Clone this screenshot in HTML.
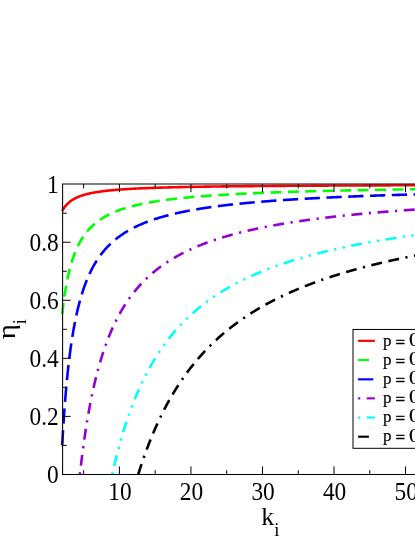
<!DOCTYPE html>
<html><head><meta charset="utf-8"><style>
html,body{margin:0;padding:0;background:#fff;}
body{width:415px;height:537px;overflow:hidden;position:relative;}
svg{position:absolute;left:0;top:0;display:block;will-change:transform;}
text{font-family:"Liberation Serif",serif;fill:#000;}
</style></head><body>
<svg width="415" height="537" viewBox="0 0 415 537">
<defs><clipPath id="c"><rect x="55" y="184.2" width="400" height="290.22"/></clipPath></defs>

<g clip-path="url(#c)" fill="none" stroke-width="2.6">
<polyline points="62.17,211.19 62.86,209.94 63.55,208.81 64.25,207.77 64.94,206.81 65.63,205.93 66.32,205.11 67.02,204.36 67.71,203.66 68.40,203.00 69.10,202.39 69.79,201.81 70.48,201.27 71.17,200.76 71.87,200.29 72.56,199.84 73.25,199.41 73.94,199.01 74.64,198.62 75.33,198.26 76.02,197.91 76.71,197.58 77.41,197.27 78.10,196.97 78.79,196.68 79.49,196.41 80.18,196.15 80.87,195.90 81.56,195.66 82.26,195.43 82.95,195.21 83.64,194.99 84.33,194.79 85.03,194.59 85.72,194.40 86.41,194.22 87.11,194.04 87.80,193.87 88.49,193.70 89.18,193.55 89.88,193.39 90.57,193.24 91.26,193.10 91.95,192.96 92.65,192.82 93.34,192.69 94.03,192.56 94.73,192.44 95.42,192.32 96.11,192.20 96.80,192.09 97.50,191.98 98.19,191.87 98.88,191.77 99.57,191.67 100.27,191.57 100.96,191.47 101.65,191.38 102.35,191.29 103.04,191.20 103.73,191.11 104.42,191.03 105.12,190.94 105.81,190.86 106.50,190.79 107.19,190.71 107.89,190.63 108.58,190.56 109.27,190.49 109.96,190.42 110.66,190.35 111.35,190.28 112.04,190.22 112.74,190.15 113.43,190.09 114.12,190.03 114.81,189.97 115.51,189.91 116.20,189.85 116.89,189.79 117.58,189.74 118.28,189.68 118.97,189.63 119.66,189.58 120.36,189.53 121.05,189.48 121.74,189.43 122.43,189.38 123.13,189.33 123.82,189.28 124.51,189.24 125.20,189.19 125.90,189.15 126.59,189.11 127.28,189.06 127.98,189.02 128.67,188.98 129.36,188.94 130.05,188.90 130.75,188.86 131.44,188.82 132.13,188.78 132.82,188.75 133.52,188.71 134.21,188.67 134.90,188.64 135.60,188.60 136.29,188.57 136.98,188.53 137.67,188.50 138.37,188.47 139.06,188.43 139.75,188.40 140.44,188.37 141.14,188.34 141.83,188.31 142.52,188.28 143.21,188.25 143.91,188.22 144.60,188.19 145.29,188.16 145.99,188.14 146.68,188.11 147.37,188.08 148.06,188.05 148.76,188.03 149.45,188.00 150.14,187.98 150.83,187.95 151.53,187.93 152.22,187.90 152.91,187.88 153.61,187.85 154.30,187.83 154.99,187.80 155.68,187.78 156.38,187.76 157.07,187.74 157.76,187.71 158.45,187.69 159.15,187.67 159.84,187.65 160.53,187.63 161.23,187.61 161.92,187.59 162.61,187.57 163.30,187.55 164.00,187.53 164.69,187.51 165.38,187.49 166.07,187.47 166.77,187.45 167.46,187.43 168.15,187.41 168.85,187.39 169.54,187.37 170.23,187.36 170.92,187.34 171.62,187.32 172.31,187.30 173.00,187.29 173.69,187.27 174.39,187.25 175.08,187.24 175.77,187.22 176.46,187.20 177.16,187.19 177.85,187.17 178.54,187.16 179.24,187.14 179.93,187.12 180.62,187.11 181.31,187.09 182.01,187.08 182.70,187.06 183.39,187.05 184.08,187.03 184.78,187.02 185.47,187.01 186.16,186.99 186.86,186.98 187.55,186.96 188.24,186.95 188.93,186.94 189.63,186.92 190.32,186.91 191.01,186.90 191.70,186.88 192.40,186.87 193.09,186.86 193.78,186.85 194.48,186.83 195.17,186.82 195.86,186.81 196.55,186.80 197.25,186.79 197.94,186.77 198.63,186.76 199.32,186.75 200.02,186.74 200.71,186.73 201.40,186.72 202.09,186.70 202.79,186.69 203.48,186.68 204.17,186.67 204.87,186.66 205.56,186.65 206.25,186.64 206.94,186.63 207.64,186.62 208.33,186.61 209.02,186.60 209.71,186.59 210.41,186.58 211.10,186.57 211.79,186.56 212.49,186.55 213.18,186.54 213.87,186.53 214.56,186.52 215.26,186.51 215.95,186.50 216.64,186.49 217.33,186.48 218.03,186.47 218.72,186.46 219.41,186.45 220.11,186.44 220.80,186.43 221.49,186.42 222.18,186.42 222.88,186.41 223.57,186.40 224.26,186.39 224.95,186.38 225.65,186.37 226.34,186.36 227.03,186.36 227.73,186.35 228.42,186.34 229.11,186.33 229.80,186.32 230.50,186.31 231.19,186.31 231.88,186.30 232.57,186.29 233.27,186.28 233.96,186.28 234.65,186.27 235.34,186.26 236.04,186.25 236.73,186.24 237.42,186.24 238.12,186.23 238.81,186.22 239.50,186.22 240.19,186.21 240.89,186.20 241.58,186.19 242.27,186.19 242.96,186.18 243.66,186.17 244.35,186.17 245.04,186.16 245.74,186.15 246.43,186.14 247.12,186.14 247.81,186.13 248.51,186.12 249.20,186.12 249.89,186.11 250.58,186.10 251.28,186.10 251.97,186.09 252.66,186.09 253.36,186.08 254.05,186.07 254.74,186.07 255.43,186.06 256.13,186.05 256.82,186.05 257.51,186.04 258.20,186.04 258.90,186.03 259.59,186.02 260.28,186.02 260.98,186.01 261.67,186.01 262.36,186.00 263.05,185.99 263.75,185.99 264.44,185.98 265.13,185.98 265.82,185.97 266.52,185.97 267.21,185.96 267.90,185.96 268.59,185.95 269.29,185.94 269.98,185.94 270.67,185.93 271.37,185.93 272.06,185.92 272.75,185.92 273.44,185.91 274.14,185.91 274.83,185.90 275.52,185.90 276.21,185.89 276.91,185.89 277.60,185.88 278.29,185.88 278.99,185.87 279.68,185.87 280.37,185.86 281.06,185.86 281.76,185.85 282.45,185.85 283.14,185.84 283.83,185.84 284.53,185.83 285.22,185.83 285.91,185.82 286.61,185.82 287.30,185.81 287.99,185.81 288.68,185.80 289.38,185.80 290.07,185.79 290.76,185.79 291.45,185.79 292.15,185.78 292.84,185.78 293.53,185.77 294.23,185.77 294.92,185.76 295.61,185.76 296.30,185.75 297.00,185.75 297.69,185.75 298.38,185.74 299.07,185.74 299.77,185.73 300.46,185.73 301.15,185.72 301.84,185.72 302.54,185.72 303.23,185.71 303.92,185.71 304.62,185.70 305.31,185.70 306.00,185.70 306.69,185.69 307.39,185.69 308.08,185.68 308.77,185.68 309.46,185.68 310.16,185.67 310.85,185.67 311.54,185.66 312.24,185.66 312.93,185.66 313.62,185.65 314.31,185.65 315.01,185.65 315.70,185.64 316.39,185.64 317.08,185.63 317.78,185.63 318.47,185.63 319.16,185.62 319.86,185.62 320.55,185.62 321.24,185.61 321.93,185.61 322.63,185.61 323.32,185.60 324.01,185.60 324.70,185.59 325.40,185.59 326.09,185.59 326.78,185.58 327.48,185.58 328.17,185.58 328.86,185.57 329.55,185.57 330.25,185.57 330.94,185.56 331.63,185.56 332.32,185.56 333.02,185.55 333.71,185.55 334.40,185.55 335.09,185.54 335.79,185.54 336.48,185.54 337.17,185.53 337.87,185.53 338.56,185.53 339.25,185.53 339.94,185.52 340.64,185.52 341.33,185.52 342.02,185.51 342.71,185.51 343.41,185.51 344.10,185.50 344.79,185.50 345.49,185.50 346.18,185.49 346.87,185.49 347.56,185.49 348.26,185.49 348.95,185.48 349.64,185.48 350.33,185.48 351.03,185.47 351.72,185.47 352.41,185.47 353.11,185.47 353.80,185.46 354.49,185.46 355.18,185.46 355.88,185.45 356.57,185.45 357.26,185.45 357.95,185.45 358.65,185.44 359.34,185.44 360.03,185.44 360.73,185.43 361.42,185.43 362.11,185.43 362.80,185.43 363.50,185.42 364.19,185.42 364.88,185.42 365.57,185.42 366.27,185.41 366.96,185.41 367.65,185.41 368.34,185.40 369.04,185.40 369.73,185.40 370.42,185.40 371.12,185.39 371.81,185.39 372.50,185.39 373.19,185.39 373.89,185.38 374.58,185.38 375.27,185.38 375.96,185.38 376.66,185.37 377.35,185.37 378.04,185.37 378.74,185.37 379.43,185.36 380.12,185.36 380.81,185.36 381.51,185.36 382.20,185.36 382.89,185.35 383.58,185.35 384.28,185.35 384.97,185.35 385.66,185.34 386.36,185.34 387.05,185.34 387.74,185.34 388.43,185.33 389.13,185.33 389.82,185.33 390.51,185.33 391.20,185.32 391.90,185.32 392.59,185.32 393.28,185.32 393.98,185.32 394.67,185.31 395.36,185.31 396.05,185.31 396.75,185.31 397.44,185.30 398.13,185.30 398.82,185.30 399.52,185.30 400.21,185.30 400.90,185.29 401.59,185.29 402.29,185.29 402.98,185.29 403.67,185.29 404.37,185.28 405.06,185.28 405.75,185.28 406.44,185.28 407.14,185.27 407.83,185.27 408.52,185.27 409.21,185.27 409.91,185.27 410.60,185.26 411.29,185.26 411.99,185.26 412.68,185.26 413.37,185.26 414.06,185.25 414.76,185.25 415.45,185.25 416.14,185.25 416.83,185.25 417.53,185.24 418.22,185.24 418.91,185.24 419.61,185.24 420.30,185.24 420.99,185.23 421.68,185.23 422.38,185.23 423.07,185.23 423.76,185.23 424.45,185.23 425.15,185.22 425.84,185.22 426.53,185.22 427.23,185.22 427.92,185.22 428.61,185.21 429.30,185.21 430.00,185.21 430.69,185.21 431.38,185.21 432.07,185.21 432.77,185.20 433.46,185.20 434.15,185.20 434.84,185.20 435.54,185.20 436.23,185.19 436.92,185.19 437.62,185.19 438.31,185.19 439.00,185.19 439.69,185.19 440.39,185.18 441.08,185.18 441.77,185.18 442.46,185.18 443.16,185.18 443.85,185.18 444.54,185.17 445.24,185.17 445.93,185.17 446.62,185.17 447.31,185.17 448.01,185.17 448.70,185.16 449.39,185.16 450.08,185.16 450.78,185.16 451.47,185.16 452.16,185.16 452.86,185.15 453.55,185.15 454.24,185.15 454.93,185.15 455.63,185.15 456.32,185.15 457.01,185.14 457.70,185.14 458.40,185.14 459.09,185.14 459.78,185.14 460.48,185.14 461.17,185.13 461.86,185.13 462.55,185.13 463.25,185.13 463.94,185.13 464.63,185.13 465.32,185.13 466.02,185.12 466.71,185.12 467.40,185.12 468.09,185.12 468.79,185.12 469.48,185.12 470.17,185.11 470.87,185.11 471.56,185.11 472.25,185.11 472.94,185.11 473.64,185.11 474.33,185.11 475.02,185.10 475.71,185.10 476.41,185.10 477.10,185.10" stroke="#ff0000"/>
<polyline points="62.17,313.93 62.86,307.94 63.55,302.48 64.25,297.48 64.94,292.88 65.63,288.65 66.32,284.73 67.02,281.09 67.71,277.71 68.40,274.56 69.10,271.61 69.79,268.85 70.48,266.26 71.17,263.82 71.87,261.52 72.56,259.35 73.25,257.30 73.94,255.36 74.64,253.52 75.33,251.77 76.02,250.11 76.71,248.53 77.41,247.02 78.10,245.58 78.79,244.21 79.49,242.89 80.18,241.63 80.87,240.43 81.56,239.27 82.26,238.16 82.95,237.10 83.64,236.07 84.33,235.09 85.03,234.14 85.72,233.23 86.41,232.35 87.11,231.50 87.80,230.68 88.49,229.88 89.18,229.12 89.88,228.38 90.57,227.66 91.26,226.97 91.95,226.29 92.65,225.64 93.34,225.01 94.03,224.40 94.73,223.81 95.42,223.23 96.11,222.67 96.80,222.12 97.50,221.60 98.19,221.08 98.88,220.58 99.57,220.09 100.27,219.62 100.96,219.16 101.65,218.71 102.35,218.27 103.04,217.84 103.73,217.42 104.42,217.02 105.12,216.62 105.81,216.23 106.50,215.85 107.19,215.48 107.89,215.12 108.58,214.77 109.27,214.42 109.96,214.09 110.66,213.76 111.35,213.44 112.04,213.12 112.74,212.81 113.43,212.51 114.12,212.21 114.81,211.92 115.51,211.64 116.20,211.36 116.89,211.09 117.58,210.82 118.28,210.56 118.97,210.30 119.66,210.05 120.36,209.80 121.05,209.56 121.74,209.32 122.43,209.09 123.13,208.86 123.82,208.64 124.51,208.42 125.20,208.20 125.90,207.99 126.59,207.78 127.28,207.57 127.98,207.37 128.67,207.17 129.36,206.97 130.05,206.78 130.75,206.59 131.44,206.41 132.13,206.23 132.82,206.05 133.52,205.87 134.21,205.70 134.90,205.52 135.60,205.36 136.29,205.19 136.98,205.03 137.67,204.87 138.37,204.71 139.06,204.55 139.75,204.40 140.44,204.25 141.14,204.10 141.83,203.95 142.52,203.81 143.21,203.67 143.91,203.53 144.60,203.39 145.29,203.25 145.99,203.12 146.68,202.98 147.37,202.85 148.06,202.72 148.76,202.60 149.45,202.47 150.14,202.35 150.83,202.23 151.53,202.10 152.22,201.99 152.91,201.87 153.61,201.75 154.30,201.64 154.99,201.53 155.68,201.41 156.38,201.30 157.07,201.20 157.76,201.09 158.45,200.98 159.15,200.88 159.84,200.78 160.53,200.67 161.23,200.57 161.92,200.47 162.61,200.38 163.30,200.28 164.00,200.18 164.69,200.09 165.38,199.99 166.07,199.90 166.77,199.81 167.46,199.72 168.15,199.63 168.85,199.54 169.54,199.45 170.23,199.37 170.92,199.28 171.62,199.20 172.31,199.12 173.00,199.03 173.69,198.95 174.39,198.87 175.08,198.79 175.77,198.71 176.46,198.63 177.16,198.56 177.85,198.48 178.54,198.40 179.24,198.33 179.93,198.25 180.62,198.18 181.31,198.11 182.01,198.04 182.70,197.97 183.39,197.90 184.08,197.83 184.78,197.76 185.47,197.69 186.16,197.62 186.86,197.55 187.55,197.49 188.24,197.42 188.93,197.36 189.63,197.29 190.32,197.23 191.01,197.17 191.70,197.10 192.40,197.04 193.09,196.98 193.78,196.92 194.48,196.86 195.17,196.80 195.86,196.74 196.55,196.68 197.25,196.63 197.94,196.57 198.63,196.51 199.32,196.45 200.02,196.40 200.71,196.34 201.40,196.29 202.09,196.23 202.79,196.18 203.48,196.13 204.17,196.07 204.87,196.02 205.56,195.97 206.25,195.92 206.94,195.87 207.64,195.82 208.33,195.77 209.02,195.72 209.71,195.67 210.41,195.62 211.10,195.57 211.79,195.52 212.49,195.47 213.18,195.43 213.87,195.38 214.56,195.33 215.26,195.29 215.95,195.24 216.64,195.20 217.33,195.15 218.03,195.11 218.72,195.06 219.41,195.02 220.11,194.98 220.80,194.93 221.49,194.89 222.18,194.85 222.88,194.81 223.57,194.76 224.26,194.72 224.95,194.68 225.65,194.64 226.34,194.60 227.03,194.56 227.73,194.52 228.42,194.48 229.11,194.44 229.80,194.40 230.50,194.36 231.19,194.32 231.88,194.29 232.57,194.25 233.27,194.21 233.96,194.17 234.65,194.14 235.34,194.10 236.04,194.06 236.73,194.03 237.42,193.99 238.12,193.96 238.81,193.92 239.50,193.89 240.19,193.85 240.89,193.82 241.58,193.78 242.27,193.75 242.96,193.71 243.66,193.68 244.35,193.65 245.04,193.61 245.74,193.58 246.43,193.55 247.12,193.52 247.81,193.48 248.51,193.45 249.20,193.42 249.89,193.39 250.58,193.36 251.28,193.32 251.97,193.29 252.66,193.26 253.36,193.23 254.05,193.20 254.74,193.17 255.43,193.14 256.13,193.11 256.82,193.08 257.51,193.05 258.20,193.02 258.90,193.00 259.59,192.97 260.28,192.94 260.98,192.91 261.67,192.88 262.36,192.85 263.05,192.83 263.75,192.80 264.44,192.77 265.13,192.74 265.82,192.72 266.52,192.69 267.21,192.66 267.90,192.64 268.59,192.61 269.29,192.58 269.98,192.56 270.67,192.53 271.37,192.50 272.06,192.48 272.75,192.45 273.44,192.43 274.14,192.40 274.83,192.38 275.52,192.35 276.21,192.33 276.91,192.30 277.60,192.28 278.29,192.26 278.99,192.23 279.68,192.21 280.37,192.18 281.06,192.16 281.76,192.14 282.45,192.11 283.14,192.09 283.83,192.07 284.53,192.04 285.22,192.02 285.91,192.00 286.61,191.97 287.30,191.95 287.99,191.93 288.68,191.91 289.38,191.89 290.07,191.86 290.76,191.84 291.45,191.82 292.15,191.80 292.84,191.78 293.53,191.76 294.23,191.73 294.92,191.71 295.61,191.69 296.30,191.67 297.00,191.65 297.69,191.63 298.38,191.61 299.07,191.59 299.77,191.57 300.46,191.55 301.15,191.53 301.84,191.51 302.54,191.49 303.23,191.47 303.92,191.45 304.62,191.43 305.31,191.41 306.00,191.39 306.69,191.37 307.39,191.35 308.08,191.33 308.77,191.31 309.46,191.30 310.16,191.28 310.85,191.26 311.54,191.24 312.24,191.22 312.93,191.20 313.62,191.18 314.31,191.17 315.01,191.15 315.70,191.13 316.39,191.11 317.08,191.09 317.78,191.08 318.47,191.06 319.16,191.04 319.86,191.02 320.55,191.01 321.24,190.99 321.93,190.97 322.63,190.96 323.32,190.94 324.01,190.92 324.70,190.90 325.40,190.89 326.09,190.87 326.78,190.85 327.48,190.84 328.17,190.82 328.86,190.81 329.55,190.79 330.25,190.77 330.94,190.76 331.63,190.74 332.32,190.73 333.02,190.71 333.71,190.69 334.40,190.68 335.09,190.66 335.79,190.65 336.48,190.63 337.17,190.62 337.87,190.60 338.56,190.59 339.25,190.57 339.94,190.55 340.64,190.54 341.33,190.52 342.02,190.51 342.71,190.50 343.41,190.48 344.10,190.47 344.79,190.45 345.49,190.44 346.18,190.42 346.87,190.41 347.56,190.39 348.26,190.38 348.95,190.36 349.64,190.35 350.33,190.34 351.03,190.32 351.72,190.31 352.41,190.29 353.11,190.28 353.80,190.27 354.49,190.25 355.18,190.24 355.88,190.23 356.57,190.21 357.26,190.20 357.95,190.19 358.65,190.17 359.34,190.16 360.03,190.15 360.73,190.13 361.42,190.12 362.11,190.11 362.80,190.09 363.50,190.08 364.19,190.07 364.88,190.05 365.57,190.04 366.27,190.03 366.96,190.02 367.65,190.00 368.34,189.99 369.04,189.98 369.73,189.97 370.42,189.95 371.12,189.94 371.81,189.93 372.50,189.92 373.19,189.91 373.89,189.89 374.58,189.88 375.27,189.87 375.96,189.86 376.66,189.85 377.35,189.83 378.04,189.82 378.74,189.81 379.43,189.80 380.12,189.79 380.81,189.77 381.51,189.76 382.20,189.75 382.89,189.74 383.58,189.73 384.28,189.72 384.97,189.71 385.66,189.69 386.36,189.68 387.05,189.67 387.74,189.66 388.43,189.65 389.13,189.64 389.82,189.63 390.51,189.62 391.20,189.61 391.90,189.60 392.59,189.58 393.28,189.57 393.98,189.56 394.67,189.55 395.36,189.54 396.05,189.53 396.75,189.52 397.44,189.51 398.13,189.50 398.82,189.49 399.52,189.48 400.21,189.47 400.90,189.46 401.59,189.45 402.29,189.44 402.98,189.43 403.67,189.42 404.37,189.41 405.06,189.40 405.75,189.39 406.44,189.38 407.14,189.37 407.83,189.36 408.52,189.35 409.21,189.34 409.91,189.33 410.60,189.32 411.29,189.31 411.99,189.30 412.68,189.29 413.37,189.28 414.06,189.27 414.76,189.26 415.45,189.25 416.14,189.24 416.83,189.23 417.53,189.22 418.22,189.21 418.91,189.20 419.61,189.19 420.30,189.18 420.99,189.17 421.68,189.17 422.38,189.16 423.07,189.15 423.76,189.14 424.45,189.13 425.15,189.12 425.84,189.11 426.53,189.10 427.23,189.09 427.92,189.08 428.61,189.07 429.30,189.07 430.00,189.06 430.69,189.05 431.38,189.04 432.07,189.03 432.77,189.02 433.46,189.01 434.15,189.01 434.84,189.00 435.54,188.99 436.23,188.98 436.92,188.97 437.62,188.96 438.31,188.95 439.00,188.95 439.69,188.94 440.39,188.93 441.08,188.92 441.77,188.91 442.46,188.90 443.16,188.90 443.85,188.89 444.54,188.88 445.24,188.87 445.93,188.86 446.62,188.85 447.31,188.85 448.01,188.84 448.70,188.83 449.39,188.82 450.08,188.81 450.78,188.81 451.47,188.80 452.16,188.79 452.86,188.78 453.55,188.78 454.24,188.77 454.93,188.76 455.63,188.75 456.32,188.74 457.01,188.74 457.70,188.73 458.40,188.72 459.09,188.71 459.78,188.71 460.48,188.70 461.17,188.69 461.86,188.68 462.55,188.68 463.25,188.67 463.94,188.66 464.63,188.65 465.32,188.65 466.02,188.64 466.71,188.63 467.40,188.62 468.09,188.62 468.79,188.61 469.48,188.60 470.17,188.60 470.87,188.59 471.56,188.58 472.25,188.57 472.94,188.57 473.64,188.56 474.33,188.55 475.02,188.55 475.71,188.54 476.41,188.53 477.10,188.52" stroke="#00ff00" stroke-dasharray="10.90,6.54"/>
<polyline points="62.17,445.40 62.86,433.34 63.55,422.34 64.25,412.27 64.94,403.02 65.63,394.49 66.32,386.60 67.02,379.28 67.71,372.48 68.40,366.13 69.10,360.19 69.79,354.63 70.48,349.41 71.17,344.50 71.87,339.88 72.56,335.51 73.25,331.38 73.94,327.48 74.64,323.77 75.33,320.25 76.02,316.90 76.71,313.72 77.41,310.68 78.10,307.78 78.79,305.02 79.49,302.37 80.18,299.84 80.87,297.41 81.56,295.08 82.26,292.85 82.95,290.71 83.64,288.64 84.33,286.66 85.03,284.75 85.72,282.91 86.41,281.14 87.11,279.43 87.80,277.78 88.49,276.18 89.18,274.64 89.88,273.15 90.57,271.70 91.26,270.31 91.95,268.95 92.65,267.64 93.34,266.37 94.03,265.14 94.73,263.94 95.42,262.78 96.11,261.65 96.80,260.56 97.50,259.49 98.19,258.46 98.88,257.45 99.57,256.47 100.27,255.51 100.96,254.58 101.65,253.67 102.35,252.79 103.04,251.93 103.73,251.09 104.42,250.27 105.12,249.47 105.81,248.69 106.50,247.93 107.19,247.19 107.89,246.46 108.58,245.75 109.27,245.05 109.96,244.38 110.66,243.71 111.35,243.06 112.04,242.43 112.74,241.81 113.43,241.20 114.12,240.60 114.81,240.02 115.51,239.45 116.20,238.89 116.89,238.34 117.58,237.80 118.28,237.27 118.97,236.76 119.66,236.25 120.36,235.75 121.05,235.26 121.74,234.78 122.43,234.31 123.13,233.85 123.82,233.40 124.51,232.96 125.20,232.52 125.90,232.09 126.59,231.67 127.28,231.25 127.98,230.85 128.67,230.45 129.36,230.06 130.05,229.67 130.75,229.29 131.44,228.91 132.13,228.55 132.82,228.19 133.52,227.83 134.21,227.48 134.90,227.14 135.60,226.80 136.29,226.46 136.98,226.13 137.67,225.81 138.37,225.49 139.06,225.18 139.75,224.87 140.44,224.57 141.14,224.27 141.83,223.97 142.52,223.68 143.21,223.39 143.91,223.11 144.60,222.83 145.29,222.56 145.99,222.29 146.68,222.02 147.37,221.76 148.06,221.50 148.76,221.24 149.45,220.99 150.14,220.74 150.83,220.49 151.53,220.25 152.22,220.01 152.91,219.77 153.61,219.54 154.30,219.31 154.99,219.08 155.68,218.86 156.38,218.64 157.07,218.42 157.76,218.21 158.45,217.99 159.15,217.78 159.84,217.57 160.53,217.37 161.23,217.17 161.92,216.97 162.61,216.77 163.30,216.57 164.00,216.38 164.69,216.19 165.38,216.00 166.07,215.81 166.77,215.63 167.46,215.45 168.15,215.27 168.85,215.09 169.54,214.91 170.23,214.74 170.92,214.57 171.62,214.40 172.31,214.23 173.00,214.06 173.69,213.90 174.39,213.74 175.08,213.58 175.77,213.42 176.46,213.26 177.16,213.10 177.85,212.95 178.54,212.80 179.24,212.65 179.93,212.50 180.62,212.35 181.31,212.20 182.01,212.06 182.70,211.92 183.39,211.77 184.08,211.63 184.78,211.50 185.47,211.36 186.16,211.22 186.86,211.09 187.55,210.95 188.24,210.82 188.93,210.69 189.63,210.56 190.32,210.43 191.01,210.31 191.70,210.18 192.40,210.06 193.09,209.93 193.78,209.81 194.48,209.69 195.17,209.57 195.86,209.45 196.55,209.33 197.25,209.22 197.94,209.10 198.63,208.99 199.32,208.87 200.02,208.76 200.71,208.65 201.40,208.54 202.09,208.43 202.79,208.32 203.48,208.21 204.17,208.11 204.87,208.00 205.56,207.90 206.25,207.79 206.94,207.69 207.64,207.59 208.33,207.49 209.02,207.39 209.71,207.29 210.41,207.19 211.10,207.09 211.79,207.00 212.49,206.90 213.18,206.81 213.87,206.71 214.56,206.62 215.26,206.53 215.95,206.43 216.64,206.34 217.33,206.25 218.03,206.16 218.72,206.07 219.41,205.98 220.11,205.90 220.80,205.81 221.49,205.72 222.18,205.64 222.88,205.55 223.57,205.47 224.26,205.39 224.95,205.30 225.65,205.22 226.34,205.14 227.03,205.06 227.73,204.98 228.42,204.90 229.11,204.82 229.80,204.74 230.50,204.66 231.19,204.59 231.88,204.51 232.57,204.43 233.27,204.36 233.96,204.28 234.65,204.21 235.34,204.13 236.04,204.06 236.73,203.99 237.42,203.91 238.12,203.84 238.81,203.77 239.50,203.70 240.19,203.63 240.89,203.56 241.58,203.49 242.27,203.42 242.96,203.35 243.66,203.29 244.35,203.22 245.04,203.15 245.74,203.09 246.43,203.02 247.12,202.96 247.81,202.89 248.51,202.83 249.20,202.76 249.89,202.70 250.58,202.63 251.28,202.57 251.97,202.51 252.66,202.45 253.36,202.39 254.05,202.33 254.74,202.26 255.43,202.20 256.13,202.14 256.82,202.08 257.51,202.03 258.20,201.97 258.90,201.91 259.59,201.85 260.28,201.79 260.98,201.74 261.67,201.68 262.36,201.62 263.05,201.57 263.75,201.51 264.44,201.46 265.13,201.40 265.82,201.35 266.52,201.29 267.21,201.24 267.90,201.18 268.59,201.13 269.29,201.08 269.98,201.03 270.67,200.97 271.37,200.92 272.06,200.87 272.75,200.82 273.44,200.77 274.14,200.72 274.83,200.67 275.52,200.62 276.21,200.57 276.91,200.52 277.60,200.47 278.29,200.42 278.99,200.37 279.68,200.32 280.37,200.27 281.06,200.23 281.76,200.18 282.45,200.13 283.14,200.08 283.83,200.04 284.53,199.99 285.22,199.94 285.91,199.90 286.61,199.85 287.30,199.81 287.99,199.76 288.68,199.72 289.38,199.67 290.07,199.63 290.76,199.59 291.45,199.54 292.15,199.50 292.84,199.46 293.53,199.41 294.23,199.37 294.92,199.33 295.61,199.28 296.30,199.24 297.00,199.20 297.69,199.16 298.38,199.12 299.07,199.08 299.77,199.04 300.46,199.00 301.15,198.95 301.84,198.91 302.54,198.87 303.23,198.83 303.92,198.79 304.62,198.76 305.31,198.72 306.00,198.68 306.69,198.64 307.39,198.60 308.08,198.56 308.77,198.52 309.46,198.49 310.16,198.45 310.85,198.41 311.54,198.37 312.24,198.34 312.93,198.30 313.62,198.26 314.31,198.23 315.01,198.19 315.70,198.15 316.39,198.12 317.08,198.08 317.78,198.05 318.47,198.01 319.16,197.98 319.86,197.94 320.55,197.91 321.24,197.87 321.93,197.84 322.63,197.80 323.32,197.77 324.01,197.73 324.70,197.70 325.40,197.67 326.09,197.63 326.78,197.60 327.48,197.57 328.17,197.53 328.86,197.50 329.55,197.47 330.25,197.43 330.94,197.40 331.63,197.37 332.32,197.34 333.02,197.31 333.71,197.27 334.40,197.24 335.09,197.21 335.79,197.18 336.48,197.15 337.17,197.12 337.87,197.09 338.56,197.06 339.25,197.03 339.94,197.00 340.64,196.96 341.33,196.93 342.02,196.90 342.71,196.87 343.41,196.85 344.10,196.82 344.79,196.79 345.49,196.76 346.18,196.73 346.87,196.70 347.56,196.67 348.26,196.64 348.95,196.61 349.64,196.58 350.33,196.56 351.03,196.53 351.72,196.50 352.41,196.47 353.11,196.44 353.80,196.42 354.49,196.39 355.18,196.36 355.88,196.33 356.57,196.31 357.26,196.28 357.95,196.25 358.65,196.23 359.34,196.20 360.03,196.17 360.73,196.15 361.42,196.12 362.11,196.09 362.80,196.07 363.50,196.04 364.19,196.01 364.88,195.99 365.57,195.96 366.27,195.94 366.96,195.91 367.65,195.89 368.34,195.86 369.04,195.84 369.73,195.81 370.42,195.79 371.12,195.76 371.81,195.74 372.50,195.71 373.19,195.69 373.89,195.66 374.58,195.64 375.27,195.61 375.96,195.59 376.66,195.57 377.35,195.54 378.04,195.52 378.74,195.49 379.43,195.47 380.12,195.45 380.81,195.42 381.51,195.40 382.20,195.38 382.89,195.35 383.58,195.33 384.28,195.31 384.97,195.29 385.66,195.26 386.36,195.24 387.05,195.22 387.74,195.20 388.43,195.17 389.13,195.15 389.82,195.13 390.51,195.11 391.20,195.08 391.90,195.06 392.59,195.04 393.28,195.02 393.98,195.00 394.67,194.98 395.36,194.95 396.05,194.93 396.75,194.91 397.44,194.89 398.13,194.87 398.82,194.85 399.52,194.83 400.21,194.81 400.90,194.79 401.59,194.77 402.29,194.74 402.98,194.72 403.67,194.70 404.37,194.68 405.06,194.66 405.75,194.64 406.44,194.62 407.14,194.60 407.83,194.58 408.52,194.56 409.21,194.54 409.91,194.52 410.60,194.50 411.29,194.48 411.99,194.46 412.68,194.44 413.37,194.42 414.06,194.41 414.76,194.39 415.45,194.37 416.14,194.35 416.83,194.33 417.53,194.31 418.22,194.29 418.91,194.27 419.61,194.25 420.30,194.23 420.99,194.22 421.68,194.20 422.38,194.18 423.07,194.16 423.76,194.14 424.45,194.12 425.15,194.11 425.84,194.09 426.53,194.07 427.23,194.05 427.92,194.03 428.61,194.02 429.30,194.00 430.00,193.98 430.69,193.96 431.38,193.94 432.07,193.93 432.77,193.91 433.46,193.89 434.15,193.87 434.84,193.86 435.54,193.84 436.23,193.82 436.92,193.81 437.62,193.79 438.31,193.77 439.00,193.75 439.69,193.74 440.39,193.72 441.08,193.70 441.77,193.69 442.46,193.67 443.16,193.65 443.85,193.64 444.54,193.62 445.24,193.60 445.93,193.59 446.62,193.57 447.31,193.56 448.01,193.54 448.70,193.52 449.39,193.51 450.08,193.49 450.78,193.48 451.47,193.46 452.16,193.44 452.86,193.43 453.55,193.41 454.24,193.40 454.93,193.38 455.63,193.37 456.32,193.35 457.01,193.33 457.70,193.32 458.40,193.30 459.09,193.29 459.78,193.27 460.48,193.26 461.17,193.24 461.86,193.23 462.55,193.21 463.25,193.20 463.94,193.18 464.63,193.17 465.32,193.15 466.02,193.14 466.71,193.12 467.40,193.11 468.09,193.09 468.79,193.08 469.48,193.06 470.17,193.05 470.87,193.03 471.56,193.02 472.25,193.01 472.94,192.99 473.64,192.98 474.33,192.96 475.02,192.95 475.71,192.93 476.41,192.92 477.10,192.91" stroke="#0000ff" stroke-dasharray="15.26,6.54"/>
<polyline points="79.91,474.42 80.57,468.54 81.24,462.89 81.90,457.46 82.56,452.24 83.23,447.21 83.89,442.37 84.55,437.71 85.21,433.21 85.88,428.86 86.54,424.67 87.20,420.62 87.87,416.70 88.53,412.91 89.19,409.24 89.86,405.68 90.52,402.24 91.18,398.90 91.85,395.67 92.51,392.53 93.17,389.48 93.83,386.52 94.50,383.64 95.16,380.85 95.82,378.13 96.49,375.48 97.15,372.91 97.81,370.40 98.48,367.97 99.14,365.59 99.80,363.27 100.47,361.02 101.13,358.82 101.79,356.67 102.45,354.57 103.12,352.53 103.78,350.53 104.44,348.58 105.11,346.68 105.77,344.82 106.43,343.00 107.10,341.22 107.76,339.49 108.42,337.79 109.09,336.12 109.75,334.49 110.41,332.90 111.08,331.34 111.74,329.81 112.40,328.32 113.06,326.85 113.73,325.42 114.39,324.01 115.05,322.63 115.72,321.28 116.38,319.95 117.04,318.65 117.71,317.37 118.37,316.12 119.03,314.89 119.70,313.68 120.36,312.50 121.02,311.34 121.68,310.20 122.35,309.07 123.01,307.97 123.67,306.89 124.34,305.83 125.00,304.78 125.66,303.75 126.33,302.74 126.99,301.75 127.65,300.77 128.32,299.81 128.98,298.87 129.64,297.94 130.30,297.02 130.97,296.12 131.63,295.24 132.29,294.36 132.96,293.50 133.62,292.66 134.28,291.83 134.95,291.01 135.61,290.20 136.27,289.41 136.94,288.62 137.60,287.85 138.26,287.09 138.92,286.34 139.59,285.60 140.25,284.88 140.91,284.16 141.58,283.45 142.24,282.75 142.90,282.07 143.57,281.39 144.23,280.72 144.89,280.06 145.56,279.41 146.22,278.77 146.88,278.13 147.54,277.51 148.21,276.89 148.87,276.28 149.53,275.68 150.20,275.09 150.86,274.51 151.52,273.93 152.19,273.36 152.85,272.79 153.51,272.24 154.18,271.69 154.84,271.15 155.50,270.61 156.17,270.08 156.83,269.56 157.49,269.04 158.15,268.53 158.82,268.03 159.48,267.53 160.14,267.04 160.81,266.55 161.47,266.07 162.13,265.60 162.80,265.13 163.46,264.66 164.12,264.20 164.79,263.75 165.45,263.30 166.11,262.86 166.77,262.42 167.44,261.99 168.10,261.56 168.76,261.13 169.43,260.71 170.09,260.30 170.75,259.89 171.42,259.48 172.08,259.08 172.74,258.68 173.41,258.29 174.07,257.90 174.73,257.51 175.39,257.13 176.06,256.76 176.72,256.38 177.38,256.01 178.05,255.65 178.71,255.29 179.37,254.93 180.04,254.57 180.70,254.22 181.36,253.87 182.03,253.53 182.69,253.19 183.35,252.85 184.01,252.52 184.68,252.18 185.34,251.86 186.00,251.53 186.67,251.21 187.33,250.89 187.99,250.58 188.66,250.26 189.32,249.95 189.98,249.65 190.65,249.34 191.31,249.04 191.97,248.74 192.63,248.45 193.30,248.16 193.96,247.86 194.62,247.58 195.29,247.29 195.95,247.01 196.61,246.73 197.28,246.45 197.94,246.18 198.60,245.90 199.27,245.63 199.93,245.37 200.59,245.10 201.26,244.84 201.92,244.58 202.58,244.32 203.24,244.06 203.91,243.81 204.57,243.55 205.23,243.30 205.90,243.06 206.56,242.81 207.22,242.57 207.89,242.33 208.55,242.09 209.21,241.85 209.88,241.61 210.54,241.38 211.20,241.15 211.86,240.92 212.53,240.69 213.19,240.46 213.85,240.24 214.52,240.01 215.18,239.79 215.84,239.57 216.51,239.35 217.17,239.14 217.83,238.92 218.50,238.71 219.16,238.50 219.82,238.29 220.48,238.08 221.15,237.88 221.81,237.67 222.47,237.47 223.14,237.27 223.80,237.07 224.46,236.87 225.13,236.67 225.79,236.48 226.45,236.28 227.12,236.09 227.78,235.90 228.44,235.71 229.10,235.52 229.77,235.33 230.43,235.15 231.09,234.96 231.76,234.78 232.42,234.60 233.08,234.42 233.75,234.24 234.41,234.06 235.07,233.88 235.74,233.71 236.40,233.53 237.06,233.36 237.73,233.19 238.39,233.02 239.05,232.85 239.71,232.68 240.38,232.52 241.04,232.35 241.70,232.18 242.37,232.02 243.03,231.86 243.69,231.70 244.36,231.54 245.02,231.38 245.68,231.22 246.35,231.06 247.01,230.91 247.67,230.75 248.33,230.60 249.00,230.44 249.66,230.29 250.32,230.14 250.99,229.99 251.65,229.84 252.31,229.69 252.98,229.55 253.64,229.40 254.30,229.26 254.97,229.11 255.63,228.97 256.29,228.83 256.95,228.68 257.62,228.54 258.28,228.40 258.94,228.27 259.61,228.13 260.27,227.99 260.93,227.85 261.60,227.72 262.26,227.58 262.92,227.45 263.59,227.32 264.25,227.19 264.91,227.05 265.57,226.92 266.24,226.79 266.90,226.66 267.56,226.54 268.23,226.41 268.89,226.28 269.55,226.16 270.22,226.03 270.88,225.91 271.54,225.78 272.21,225.66 272.87,225.54 273.53,225.42 274.19,225.30 274.86,225.18 275.52,225.06 276.18,224.94 276.85,224.82 277.51,224.70 278.17,224.59 278.84,224.47 279.50,224.36 280.16,224.24 280.83,224.13 281.49,224.01 282.15,223.90 282.82,223.79 283.48,223.68 284.14,223.57 284.80,223.46 285.47,223.35 286.13,223.24 286.79,223.13 287.46,223.02 288.12,222.91 288.78,222.81 289.45,222.70 290.11,222.60 290.77,222.49 291.44,222.39 292.10,222.28 292.76,222.18 293.42,222.08 294.09,221.98 294.75,221.87 295.41,221.77 296.08,221.67 296.74,221.57 297.40,221.47 298.07,221.38 298.73,221.28 299.39,221.18 300.06,221.08 300.72,220.99 301.38,220.89 302.04,220.79 302.71,220.70 303.37,220.60 304.03,220.51 304.70,220.42 305.36,220.32 306.02,220.23 306.69,220.14 307.35,220.05 308.01,219.95 308.68,219.86 309.34,219.77 310.00,219.68 310.66,219.59 311.33,219.50 311.99,219.42 312.65,219.33 313.32,219.24 313.98,219.15 314.64,219.07 315.31,218.98 315.97,218.89 316.63,218.81 317.30,218.72 317.96,218.64 318.62,218.55 319.28,218.47 319.95,218.39 320.61,218.30 321.27,218.22 321.94,218.14 322.60,218.06 323.26,217.97 323.93,217.89 324.59,217.81 325.25,217.73 325.92,217.65 326.58,217.57 327.24,217.49 327.91,217.41 328.57,217.34 329.23,217.26 329.89,217.18 330.56,217.10 331.22,217.03 331.88,216.95 332.55,216.87 333.21,216.80 333.87,216.72 334.54,216.65 335.20,216.57 335.86,216.50 336.53,216.42 337.19,216.35 337.85,216.28 338.51,216.20 339.18,216.13 339.84,216.06 340.50,215.98 341.17,215.91 341.83,215.84 342.49,215.77 343.16,215.70 343.82,215.63 344.48,215.56 345.15,215.49 345.81,215.42 346.47,215.35 347.13,215.28 347.80,215.21 348.46,215.14 349.12,215.08 349.79,215.01 350.45,214.94 351.11,214.87 351.78,214.81 352.44,214.74 353.10,214.67 353.77,214.61 354.43,214.54 355.09,214.48 355.75,214.41 356.42,214.35 357.08,214.28 357.74,214.22 358.41,214.15 359.07,214.09 359.73,214.02 360.40,213.96 361.06,213.90 361.72,213.84 362.39,213.77 363.05,213.71 363.71,213.65 364.37,213.59 365.04,213.53 365.70,213.46 366.36,213.40 367.03,213.34 367.69,213.28 368.35,213.22 369.02,213.16 369.68,213.10 370.34,213.04 371.01,212.98 371.67,212.93 372.33,212.87 373.00,212.81 373.66,212.75 374.32,212.69 374.98,212.63 375.65,212.58 376.31,212.52 376.97,212.46 377.64,212.41 378.30,212.35 378.96,212.29 379.63,212.24 380.29,212.18 380.95,212.12 381.62,212.07 382.28,212.01 382.94,211.96 383.60,211.90 384.27,211.85 384.93,211.80 385.59,211.74 386.26,211.69 386.92,211.63 387.58,211.58 388.25,211.53 388.91,211.47 389.57,211.42 390.24,211.37 390.90,211.32 391.56,211.26 392.22,211.21 392.89,211.16 393.55,211.11 394.21,211.06 394.88,211.00 395.54,210.95 396.20,210.90 396.87,210.85 397.53,210.80 398.19,210.75 398.86,210.70 399.52,210.65 400.18,210.60 400.84,210.55 401.51,210.50 402.17,210.45 402.83,210.40 403.50,210.35 404.16,210.31 404.82,210.26 405.49,210.21 406.15,210.16 406.81,210.11 407.48,210.07 408.14,210.02 408.80,209.97 409.46,209.92 410.13,209.88 410.79,209.83 411.45,209.78 412.12,209.74 412.78,209.69 413.44,209.64 414.11,209.60 414.77,209.55 415.43,209.51 416.10,209.46 416.76,209.41 417.42,209.37 418.09,209.32 418.75,209.28 419.41,209.23 420.07,209.19 420.74,209.15 421.40,209.10 422.06,209.06 422.73,209.01 423.39,208.97 424.05,208.93 424.72,208.88 425.38,208.84 426.04,208.80 426.71,208.75 427.37,208.71 428.03,208.67 428.69,208.62 429.36,208.58 430.02,208.54 430.68,208.50 431.35,208.46 432.01,208.41 432.67,208.37 433.34,208.33 434.00,208.29 434.66,208.25 435.33,208.21 435.99,208.17 436.65,208.12 437.31,208.08 437.98,208.04 438.64,208.00 439.30,207.96 439.97,207.92 440.63,207.88 441.29,207.84 441.96,207.80 442.62,207.76 443.28,207.72 443.95,207.68 444.61,207.64 445.27,207.61 445.93,207.57 446.60,207.53 447.26,207.49 447.92,207.45 448.59,207.41 449.25,207.37 449.91,207.34 450.58,207.30 451.24,207.26 451.90,207.22 452.57,207.18 453.23,207.15 453.89,207.11 454.55,207.07 455.22,207.03 455.88,207.00 456.54,206.96 457.21,206.92 457.87,206.89 458.53,206.85 459.20,206.81 459.86,206.78 460.52,206.74 461.19,206.70 461.85,206.67 462.51,206.63 463.18,206.60 463.84,206.56 464.50,206.53 465.16,206.49 465.83,206.45 466.49,206.42 467.15,206.38 467.82,206.35 468.48,206.31 469.14,206.28 469.81,206.24 470.47,206.21 471.13,206.18 471.80,206.14 472.46,206.11 473.12,206.07 473.78,206.04 474.45,206.00 475.11,205.97 475.77,205.94 476.44,205.90 477.10,205.87" stroke="#9400d3" stroke-dasharray="2.19,6.57,10.95,6.57"/>
<polyline points="112.25,474.42 112.86,471.70 113.46,469.03 114.07,466.41 114.68,463.84 115.29,461.31 115.90,458.83 116.51,456.39 117.12,454.00 117.73,451.65 118.34,449.34 118.95,447.07 119.56,444.83 120.16,442.64 120.77,440.48 121.38,438.35 121.99,436.27 122.60,434.21 123.21,432.19 123.82,430.20 124.43,428.25 125.04,426.32 125.65,424.42 126.26,422.56 126.86,420.72 127.47,418.91 128.08,417.13 128.69,415.37 129.30,413.64 129.91,411.94 130.52,410.26 131.13,408.61 131.74,406.98 132.35,405.37 132.96,403.79 133.56,402.23 134.17,400.69 134.78,399.17 135.39,397.68 136.00,396.20 136.61,394.75 137.22,393.31 137.83,391.90 138.44,390.50 139.05,389.12 139.66,387.76 140.26,386.42 140.87,385.10 141.48,383.79 142.09,382.50 142.70,381.23 143.31,379.97 143.92,378.73 144.53,377.50 145.14,376.29 145.75,375.10 146.36,373.91 146.96,372.75 147.57,371.60 148.18,370.46 148.79,369.34 149.40,368.22 150.01,367.13 150.62,366.04 151.23,364.97 151.84,363.91 152.45,362.87 153.06,361.83 153.67,360.81 154.27,359.80 154.88,358.80 155.49,357.81 156.10,356.83 156.71,355.87 157.32,354.91 157.93,353.97 158.54,353.03 159.15,352.11 159.76,351.19 160.37,350.29 160.97,349.40 161.58,348.51 162.19,347.64 162.80,346.77 163.41,345.91 164.02,345.07 164.63,344.23 165.24,343.40 165.85,342.57 166.46,341.76 167.07,340.96 167.67,340.16 168.28,339.37 168.89,338.59 169.50,337.82 170.11,337.05 170.72,336.29 171.33,335.54 171.94,334.80 172.55,334.06 173.16,333.34 173.77,332.61 174.37,331.90 174.98,331.19 175.59,330.49 176.20,329.80 176.81,329.11 177.42,328.43 178.03,327.75 178.64,327.08 179.25,326.42 179.86,325.76 180.47,325.11 181.07,324.47 181.68,323.83 182.29,323.20 182.90,322.57 183.51,321.95 184.12,321.34 184.73,320.72 185.34,320.12 185.95,319.52 186.56,318.93 187.17,318.34 187.78,317.75 188.38,317.17 188.99,316.60 189.60,316.03 190.21,315.47 190.82,314.91 191.43,314.35 192.04,313.80 192.65,313.26 193.26,312.72 193.87,312.18 194.48,311.65 195.08,311.12 195.69,310.60 196.30,310.08 196.91,309.57 197.52,309.06 198.13,308.55 198.74,308.05 199.35,307.55 199.96,307.06 200.57,306.57 201.18,306.08 201.78,305.60 202.39,305.12 203.00,304.64 203.61,304.17 204.22,303.71 204.83,303.24 205.44,302.78 206.05,302.33 206.66,301.87 207.27,301.42 207.88,300.98 208.48,300.53 209.09,300.09 209.70,299.66 210.31,299.23 210.92,298.80 211.53,298.37 212.14,297.95 212.75,297.53 213.36,297.11 213.97,296.69 214.58,296.28 215.18,295.88 215.79,295.47 216.40,295.07 217.01,294.67 217.62,294.27 218.23,293.88 218.84,293.49 219.45,293.10 220.06,292.72 220.67,292.33 221.28,291.95 221.88,291.58 222.49,291.20 223.10,290.83 223.71,290.46 224.32,290.09 224.93,289.73 225.54,289.37 226.15,289.01 226.76,288.65 227.37,288.30 227.98,287.94 228.59,287.60 229.19,287.25 229.80,286.90 230.41,286.56 231.02,286.22 231.63,285.88 232.24,285.55 232.85,285.21 233.46,284.88 234.07,284.55 234.68,284.22 235.29,283.90 235.89,283.58 236.50,283.26 237.11,282.94 237.72,282.62 238.33,282.30 238.94,281.99 239.55,281.68 240.16,281.37 240.77,281.07 241.38,280.76 241.99,280.46 242.59,280.16 243.20,279.86 243.81,279.56 244.42,279.26 245.03,278.97 245.64,278.68 246.25,278.39 246.86,278.10 247.47,277.81 248.08,277.53 248.69,277.25 249.29,276.97 249.90,276.69 250.51,276.41 251.12,276.13 251.73,275.86 252.34,275.58 252.95,275.31 253.56,275.04 254.17,274.77 254.78,274.51 255.39,274.24 255.99,273.98 256.60,273.72 257.21,273.46 257.82,273.20 258.43,272.94 259.04,272.68 259.65,272.43 260.26,272.18 260.87,271.93 261.48,271.67 262.09,271.43 262.69,271.18 263.30,270.93 263.91,270.69 264.52,270.45 265.13,270.20 265.74,269.96 266.35,269.72 266.96,269.49 267.57,269.25 268.18,269.01 268.79,268.78 269.40,268.55 270.00,268.32 270.61,268.09 271.22,267.86 271.83,267.63 272.44,267.40 273.05,267.18 273.66,266.96 274.27,266.73 274.88,266.51 275.49,266.29 276.10,266.07 276.70,265.85 277.31,265.64 277.92,265.42 278.53,265.21 279.14,264.99 279.75,264.78 280.36,264.57 280.97,264.36 281.58,264.15 282.19,263.94 282.80,263.74 283.40,263.53 284.01,263.33 284.62,263.12 285.23,262.92 285.84,262.72 286.45,262.52 287.06,262.32 287.67,262.12 288.28,261.92 288.89,261.73 289.50,261.53 290.10,261.34 290.71,261.14 291.32,260.95 291.93,260.76 292.54,260.57 293.15,260.38 293.76,260.19 294.37,260.00 294.98,259.82 295.59,259.63 296.20,259.45 296.80,259.26 297.41,259.08 298.02,258.90 298.63,258.71 299.24,258.53 299.85,258.35 300.46,258.18 301.07,258.00 301.68,257.82 302.29,257.64 302.90,257.47 303.51,257.29 304.11,257.12 304.72,256.95 305.33,256.78 305.94,256.60 306.55,256.43 307.16,256.26 307.77,256.09 308.38,255.93 308.99,255.76 309.60,255.59 310.21,255.43 310.81,255.26 311.42,255.10 312.03,254.93 312.64,254.77 313.25,254.61 313.86,254.45 314.47,254.29 315.08,254.13 315.69,253.97 316.30,253.81 316.91,253.65 317.51,253.50 318.12,253.34 318.73,253.18 319.34,253.03 319.95,252.88 320.56,252.72 321.17,252.57 321.78,252.42 322.39,252.27 323.00,252.12 323.61,251.97 324.21,251.82 324.82,251.67 325.43,251.52 326.04,251.37 326.65,251.23 327.26,251.08 327.87,250.93 328.48,250.79 329.09,250.64 329.70,250.50 330.31,250.36 330.91,250.22 331.52,250.07 332.13,249.93 332.74,249.79 333.35,249.65 333.96,249.51 334.57,249.37 335.18,249.24 335.79,249.10 336.40,248.96 337.01,248.83 337.61,248.69 338.22,248.55 338.83,248.42 339.44,248.29 340.05,248.15 340.66,248.02 341.27,247.89 341.88,247.75 342.49,247.62 343.10,247.49 343.71,247.36 344.32,247.23 344.92,247.10 345.53,246.97 346.14,246.85 346.75,246.72 347.36,246.59 347.97,246.46 348.58,246.34 349.19,246.21 349.80,246.09 350.41,245.96 351.02,245.84 351.62,245.72 352.23,245.59 352.84,245.47 353.45,245.35 354.06,245.23 354.67,245.10 355.28,244.98 355.89,244.86 356.50,244.74 357.11,244.62 357.72,244.51 358.32,244.39 358.93,244.27 359.54,244.15 360.15,244.04 360.76,243.92 361.37,243.80 361.98,243.69 362.59,243.57 363.20,243.46 363.81,243.34 364.42,243.23 365.02,243.12 365.63,243.00 366.24,242.89 366.85,242.78 367.46,242.67 368.07,242.56 368.68,242.44 369.29,242.33 369.90,242.22 370.51,242.12 371.12,242.01 371.72,241.90 372.33,241.79 372.94,241.68 373.55,241.57 374.16,241.47 374.77,241.36 375.38,241.25 375.99,241.15 376.60,241.04 377.21,240.94 377.82,240.83 378.42,240.73 379.03,240.62 379.64,240.52 380.25,240.42 380.86,240.31 381.47,240.21 382.08,240.11 382.69,240.01 383.30,239.91 383.91,239.81 384.52,239.71 385.13,239.60 385.73,239.50 386.34,239.41 386.95,239.31 387.56,239.21 388.17,239.11 388.78,239.01 389.39,238.91 390.00,238.82 390.61,238.72 391.22,238.62 391.83,238.53 392.43,238.43 393.04,238.33 393.65,238.24 394.26,238.14 394.87,238.05 395.48,237.95 396.09,237.86 396.70,237.77 397.31,237.67 397.92,237.58 398.53,237.49 399.13,237.40 399.74,237.30 400.35,237.21 400.96,237.12 401.57,237.03 402.18,236.94 402.79,236.85 403.40,236.76 404.01,236.67 404.62,236.58 405.23,236.49 405.83,236.40 406.44,236.31 407.05,236.22 407.66,236.13 408.27,236.05 408.88,235.96 409.49,235.87 410.10,235.79 410.71,235.70 411.32,235.61 411.93,235.53 412.53,235.44 413.14,235.36 413.75,235.27 414.36,235.18 414.97,235.10 415.58,235.02 416.19,234.93 416.80,234.85 417.41,234.76 418.02,234.68 418.63,234.60 419.24,234.52 419.84,234.43 420.45,234.35 421.06,234.27 421.67,234.19 422.28,234.11 422.89,234.03 423.50,233.94 424.11,233.86 424.72,233.78 425.33,233.70 425.94,233.62 426.54,233.54 427.15,233.47 427.76,233.39 428.37,233.31 428.98,233.23 429.59,233.15 430.20,233.07 430.81,233.00 431.42,232.92 432.03,232.84 432.64,232.76 433.24,232.69 433.85,232.61 434.46,232.53 435.07,232.46 435.68,232.38 436.29,232.31 436.90,232.23 437.51,232.16 438.12,232.08 438.73,232.01 439.34,231.93 439.94,231.86 440.55,231.78 441.16,231.71 441.77,231.64 442.38,231.56 442.99,231.49 443.60,231.42 444.21,231.35 444.82,231.27 445.43,231.20 446.04,231.13 446.64,231.06 447.25,230.99 447.86,230.91 448.47,230.84 449.08,230.77 449.69,230.70 450.30,230.63 450.91,230.56 451.52,230.49 452.13,230.42 452.74,230.35 453.34,230.28 453.95,230.21 454.56,230.15 455.17,230.08 455.78,230.01 456.39,229.94 457.00,229.87 457.61,229.80 458.22,229.74 458.83,229.67 459.44,229.60 460.05,229.53 460.65,229.47 461.26,229.40 461.87,229.33 462.48,229.27 463.09,229.20 463.70,229.14 464.31,229.07 464.92,229.00 465.53,228.94 466.14,228.87 466.75,228.81 467.35,228.74 467.96,228.68 468.57,228.62 469.18,228.55 469.79,228.49 470.40,228.42 471.01,228.36 471.62,228.30 472.23,228.23 472.84,228.17 473.45,228.11 474.05,228.04 474.66,227.98 475.27,227.92 475.88,227.86 476.49,227.79 477.10,227.73" stroke="#00ffff" stroke-dasharray="2.18,6.54,10.90,6.54,2.18,6.54"/>
<polyline points="138.22,474.42 138.78,472.61 139.35,470.83 139.91,469.07 140.48,467.33 141.04,465.61 141.61,463.91 142.18,462.23 142.74,460.58 143.31,458.94 143.87,457.32 144.44,455.72 145.00,454.14 145.57,452.57 146.14,451.03 146.70,449.50 147.27,447.99 147.83,446.50 148.40,445.02 148.96,443.56 149.53,442.12 150.10,440.69 150.66,439.28 151.23,437.89 151.79,436.51 152.36,435.14 152.92,433.79 153.49,432.45 154.06,431.13 154.62,429.82 155.19,428.53 155.75,427.24 156.32,425.98 156.88,424.72 157.45,423.48 158.02,422.25 158.58,421.03 159.15,419.83 159.71,418.64 160.28,417.46 160.85,416.29 161.41,415.13 161.98,413.99 162.54,412.86 163.11,411.73 163.67,410.62 164.24,409.52 164.81,408.43 165.37,407.35 165.94,406.28 166.50,405.22 167.07,404.17 167.63,403.14 168.20,402.11 168.77,401.09 169.33,400.08 169.90,399.08 170.46,398.08 171.03,397.10 171.59,396.13 172.16,395.16 172.73,394.21 173.29,393.26 173.86,392.32 174.42,391.39 174.99,390.47 175.55,389.56 176.12,388.65 176.69,387.75 177.25,386.86 177.82,385.98 178.38,385.11 178.95,384.24 179.51,383.38 180.08,382.53 180.65,381.68 181.21,380.84 181.78,380.01 182.34,379.19 182.91,378.37 183.48,377.56 184.04,376.76 184.61,375.96 185.17,375.17 185.74,374.39 186.30,373.61 186.87,372.84 187.44,372.08 188.00,371.32 188.57,370.56 189.13,369.82 189.70,369.08 190.26,368.34 190.83,367.62 191.40,366.89 191.96,366.17 192.53,365.46 193.09,364.76 193.66,364.06 194.22,363.36 194.79,362.67 195.36,361.99 195.92,361.31 196.49,360.63 197.05,359.96 197.62,359.30 198.18,358.64 198.75,357.99 199.32,357.34 199.88,356.69 200.45,356.05 201.01,355.42 201.58,354.79 202.14,354.16 202.71,353.54 203.28,352.93 203.84,352.31 204.41,351.71 204.97,351.10 205.54,350.50 206.11,349.91 206.67,349.32 207.24,348.73 207.80,348.15 208.37,347.57 208.93,347.00 209.50,346.43 210.07,345.86 210.63,345.30 211.20,344.74 211.76,344.19 212.33,343.64 212.89,343.09 213.46,342.55 214.03,342.01 214.59,341.48 215.16,340.94 215.72,340.42 216.29,339.89 216.85,339.37 217.42,338.85 217.99,338.34 218.55,337.83 219.12,337.32 219.68,336.82 220.25,336.31 220.81,335.82 221.38,335.32 221.95,334.83 222.51,334.34 223.08,333.86 223.64,333.38 224.21,332.90 224.77,332.42 225.34,331.95 225.91,331.48 226.47,331.01 227.04,330.55 227.60,330.09 228.17,329.63 228.74,329.18 229.30,328.73 229.87,328.28 230.43,327.83 231.00,327.39 231.56,326.95 232.13,326.51 232.70,326.07 233.26,325.64 233.83,325.21 234.39,324.78 234.96,324.36 235.52,323.93 236.09,323.51 236.66,323.10 237.22,322.68 237.79,322.27 238.35,321.86 238.92,321.45 239.48,321.04 240.05,320.64 240.62,320.24 241.18,319.84 241.75,319.45 242.31,319.05 242.88,318.66 243.44,318.27 244.01,317.89 244.58,317.50 245.14,317.12 245.71,316.74 246.27,316.36 246.84,315.99 247.41,315.61 247.97,315.24 248.54,314.87 249.10,314.50 249.67,314.14 250.23,313.78 250.80,313.42 251.37,313.06 251.93,312.70 252.50,312.34 253.06,311.99 253.63,311.64 254.19,311.29 254.76,310.94 255.33,310.60 255.89,310.25 256.46,309.91 257.02,309.57 257.59,309.23 258.15,308.90 258.72,308.56 259.29,308.23 259.85,307.90 260.42,307.57 260.98,307.24 261.55,306.92 262.11,306.59 262.68,306.27 263.25,305.95 263.81,305.63 264.38,305.31 264.94,305.00 265.51,304.68 266.07,304.37 266.64,304.06 267.21,303.75 267.77,303.44 268.34,303.14 268.90,302.83 269.47,302.53 270.04,302.23 270.60,301.93 271.17,301.63 271.73,301.33 272.30,301.04 272.86,300.74 273.43,300.45 274.00,300.16 274.56,299.87 275.13,299.58 275.69,299.30 276.26,299.01 276.82,298.73 277.39,298.45 277.96,298.16 278.52,297.89 279.09,297.61 279.65,297.33 280.22,297.06 280.78,296.78 281.35,296.51 281.92,296.24 282.48,295.97 283.05,295.70 283.61,295.43 284.18,295.16 284.74,294.90 285.31,294.64 285.88,294.37 286.44,294.11 287.01,293.85 287.57,293.59 288.14,293.33 288.70,293.08 289.27,292.82 289.84,292.57 290.40,292.32 290.97,292.07 291.53,291.81 292.10,291.57 292.67,291.32 293.23,291.07 293.80,290.82 294.36,290.58 294.93,290.34 295.49,290.09 296.06,289.85 296.63,289.61 297.19,289.37 297.76,289.13 298.32,288.90 298.89,288.66 299.45,288.43 300.02,288.19 300.59,287.96 301.15,287.73 301.72,287.50 302.28,287.27 302.85,287.04 303.41,286.81 303.98,286.58 304.55,286.36 305.11,286.13 305.68,285.91 306.24,285.69 306.81,285.47 307.37,285.25 307.94,285.03 308.51,284.81 309.07,284.59 309.64,284.37 310.20,284.16 310.77,283.94 311.33,283.73 311.90,283.51 312.47,283.30 313.03,283.09 313.60,282.88 314.16,282.67 314.73,282.46 315.30,282.25 315.86,282.05 316.43,281.84 316.99,281.63 317.56,281.43 318.12,281.23 318.69,281.02 319.26,280.82 319.82,280.62 320.39,280.42 320.95,280.22 321.52,280.02 322.08,279.83 322.65,279.63 323.22,279.43 323.78,279.24 324.35,279.04 324.91,278.85 325.48,278.66 326.04,278.46 326.61,278.27 327.18,278.08 327.74,277.89 328.31,277.70 328.87,277.52 329.44,277.33 330.00,277.14 330.57,276.96 331.14,276.77 331.70,276.59 332.27,276.40 332.83,276.22 333.40,276.04 333.96,275.85 334.53,275.67 335.10,275.49 335.66,275.31 336.23,275.14 336.79,274.96 337.36,274.78 337.93,274.60 338.49,274.43 339.06,274.25 339.62,274.08 340.19,273.90 340.75,273.73 341.32,273.56 341.89,273.39 342.45,273.21 343.02,273.04 343.58,272.87 344.15,272.70 344.71,272.54 345.28,272.37 345.85,272.20 346.41,272.03 346.98,271.87 347.54,271.70 348.11,271.54 348.67,271.37 349.24,271.21 349.81,271.05 350.37,270.88 350.94,270.72 351.50,270.56 352.07,270.40 352.63,270.24 353.20,270.08 353.77,269.92 354.33,269.76 354.90,269.61 355.46,269.45 356.03,269.29 356.59,269.14 357.16,268.98 357.73,268.83 358.29,268.67 358.86,268.52 359.42,268.37 359.99,268.21 360.56,268.06 361.12,267.91 361.69,267.76 362.25,267.61 362.82,267.46 363.38,267.31 363.95,267.16 364.52,267.01 365.08,266.86 365.65,266.72 366.21,266.57 366.78,266.42 367.34,266.28 367.91,266.13 368.48,265.99 369.04,265.84 369.61,265.70 370.17,265.56 370.74,265.42 371.30,265.27 371.87,265.13 372.44,264.99 373.00,264.85 373.57,264.71 374.13,264.57 374.70,264.43 375.26,264.29 375.83,264.15 376.40,264.02 376.96,263.88 377.53,263.74 378.09,263.61 378.66,263.47 379.23,263.34 379.79,263.20 380.36,263.07 380.92,262.93 381.49,262.80 382.05,262.67 382.62,262.53 383.19,262.40 383.75,262.27 384.32,262.14 384.88,262.01 385.45,261.88 386.01,261.75 386.58,261.62 387.15,261.49 387.71,261.36 388.28,261.23 388.84,261.10 389.41,260.98 389.97,260.85 390.54,260.72 391.11,260.60 391.67,260.47 392.24,260.35 392.80,260.22 393.37,260.10 393.93,259.97 394.50,259.85 395.07,259.73 395.63,259.60 396.20,259.48 396.76,259.36 397.33,259.24 397.89,259.11 398.46,258.99 399.03,258.87 399.59,258.75 400.16,258.63 400.72,258.51 401.29,258.40 401.86,258.28 402.42,258.16 402.99,258.04 403.55,257.92 404.12,257.81 404.68,257.69 405.25,257.57 405.82,257.46 406.38,257.34 406.95,257.23 407.51,257.11 408.08,257.00 408.64,256.88 409.21,256.77 409.78,256.66 410.34,256.54 410.91,256.43 411.47,256.32 412.04,256.21 412.60,256.09 413.17,255.98 413.74,255.87 414.30,255.76 414.87,255.65 415.43,255.54 416.00,255.43 416.56,255.32 417.13,255.21 417.70,255.10 418.26,255.00 418.83,254.89 419.39,254.78 419.96,254.67 420.52,254.57 421.09,254.46 421.66,254.35 422.22,254.25 422.79,254.14 423.35,254.04 423.92,253.93 424.49,253.83 425.05,253.72 425.62,253.62 426.18,253.51 426.75,253.41 427.31,253.31 427.88,253.20 428.45,253.10 429.01,253.00 429.58,252.90 430.14,252.80 430.71,252.69 431.27,252.59 431.84,252.49 432.41,252.39 432.97,252.29 433.54,252.19 434.10,252.09 434.67,251.99 435.23,251.89 435.80,251.80 436.37,251.70 436.93,251.60 437.50,251.50 438.06,251.40 438.63,251.31 439.19,251.21 439.76,251.11 440.33,251.02 440.89,250.92 441.46,250.82 442.02,250.73 442.59,250.63 443.15,250.54 443.72,250.44 444.29,250.35 444.85,250.25 445.42,250.16 445.98,250.07 446.55,249.97 447.12,249.88 447.68,249.79 448.25,249.69 448.81,249.60 449.38,249.51 449.94,249.42 450.51,249.33 451.08,249.23 451.64,249.14 452.21,249.05 452.77,248.96 453.34,248.87 453.90,248.78 454.47,248.69 455.04,248.60 455.60,248.51 456.17,248.42 456.73,248.33 457.30,248.25 457.86,248.16 458.43,248.07 459.00,247.98 459.56,247.89 460.13,247.81 460.69,247.72 461.26,247.63 461.82,247.55 462.39,247.46 462.96,247.37 463.52,247.29 464.09,247.20 464.65,247.12 465.22,247.03 465.78,246.95 466.35,246.86 466.92,246.78 467.48,246.69 468.05,246.61 468.61,246.52 469.18,246.44 469.75,246.36 470.31,246.27 470.88,246.19 471.44,246.11 472.01,246.02 472.57,245.94 473.14,245.86 473.71,245.78 474.27,245.70 474.84,245.62 475.40,245.53 475.97,245.45 476.53,245.37 477.10,245.29" stroke="#000000" stroke-dasharray="10.90,6.54,2.18,6.54,10.90,6.54"/>
</g>
<g stroke="#000" stroke-width="1.05" fill="none">
<path d="M62.6,474.42 L62.6,184.0 L430,184.0"/><path d="M62.08,474.42 L430,474.42"/>
</g><g stroke="#000" stroke-width="1.0" fill="none">
<path d="M83.63,474.42 v-4.2"/><path d="M83.63,184.0 v4.4"/>
<path d="M119.40,474.42 v-8"/><path d="M119.40,184.0 v8.2"/>
<path d="M155.17,474.42 v-4.2"/><path d="M155.17,184.0 v4.4"/>
<path d="M190.94,474.42 v-8"/><path d="M190.94,184.0 v8.2"/>
<path d="M226.71,474.42 v-4.2"/><path d="M226.71,184.0 v4.4"/>
<path d="M262.48,474.42 v-8"/><path d="M262.48,184.0 v8.2"/>
<path d="M298.25,474.42 v-4.2"/><path d="M298.25,184.0 v4.4"/>
<path d="M334.02,474.42 v-8"/><path d="M334.02,184.0 v8.2"/>
<path d="M369.79,474.42 v-4.2"/><path d="M369.79,184.0 v4.4"/>
<path d="M405.56,474.42 v-8"/><path d="M405.56,184.0 v8.2"/>
<path d="M441.33,474.42 v-4.2"/><path d="M441.33,184.0 v4.4"/>
<path d="M62.6,445.40 h4.2"/>
<path d="M62.6,416.38 h8"/>
<path d="M62.6,387.35 h4.2"/>
<path d="M62.6,358.33 h8"/>
<path d="M62.6,329.31 h4.2"/>
<path d="M62.6,300.29 h8"/>
<path d="M62.6,271.27 h4.2"/>
<path d="M62.6,242.24 h8"/>
<path d="M62.6,213.22 h4.2"/>
</g>
<text transform="translate(120.00,499.9) scale(0.955,1)" font-size="24.5" text-anchor="middle">10</text>
<text transform="translate(191.54,499.9) scale(0.955,1)" font-size="24.5" text-anchor="middle">20</text>
<text transform="translate(263.08,499.9) scale(0.955,1)" font-size="24.5" text-anchor="middle">30</text>
<text transform="translate(334.62,499.9) scale(0.955,1)" font-size="24.5" text-anchor="middle">40</text>
<text transform="translate(406.16,499.9) scale(0.955,1)" font-size="24.5" text-anchor="middle">50</text>
<text transform="translate(58.8,482.92) scale(0.955,1)" font-size="24.5" text-anchor="end">0</text>
<text transform="translate(58.8,424.88) scale(0.955,1)" font-size="24.5" text-anchor="end">0.2</text>
<text transform="translate(58.8,366.83) scale(0.955,1)" font-size="24.5" text-anchor="end">0.4</text>
<text transform="translate(58.8,308.79) scale(0.955,1)" font-size="24.5" text-anchor="end">0.6</text>
<text transform="translate(58.8,250.74) scale(0.955,1)" font-size="24.5" text-anchor="end">0.8</text>
<text transform="translate(58.8,192.70) scale(0.955,1)" font-size="24.5" text-anchor="end">1</text>
<text x="261.2" y="525" font-size="26">k</text><text x="274.2" y="535.5" font-size="18.5">i</text>
<text transform="translate(14.8,339.3) rotate(-90) scale(1.11,1)" font-size="26">η</text><text transform="translate(25.7,324.2) rotate(-90)" font-size="18.5">i</text>
<rect x="353.0" y="329.45" width="80" height="118.85" fill="#fff" stroke="#000" stroke-width="1.0"/>
<path d="M358.05,340.85 L374.85,340.85" stroke="#ff0000" stroke-width="2.15"/>
<g font-size="17" stroke="#000" stroke-width="0.2"><text x="383.0" y="345.5">p</text><text x="395.4" y="347.6" stroke-width="0.45">=</text><text transform="translate(409.0,345.7) scale(1.18,1)" font-size="18.5">0.1</text></g>
<path d="M358.05,360.0 L368.9,360.0" stroke="#00ff00" stroke-width="2.15"/>
<g font-size="17" stroke="#000" stroke-width="0.2"><text x="383.0" y="364.6">p</text><text x="395.4" y="366.7" stroke-width="0.45">=</text><text transform="translate(409.0,364.8) scale(1.18,1)" font-size="18.5">0.1</text></g>
<path d="M358.05,379.35 L373.3,379.35" stroke="#0000ff" stroke-width="2.15"/>
<g font-size="17" stroke="#000" stroke-width="0.2"><text x="383.0" y="384.0">p</text><text x="395.4" y="386.1" stroke-width="0.45">=</text><text transform="translate(409.0,384.2) scale(1.18,1)" font-size="18.5">0.1</text></g>
<path d="M358.05,398.35 L360.25,398.35" stroke="#9400d3" stroke-width="2.15"/>
<path d="M366.8,398.35 L374.85,398.35" stroke="#9400d3" stroke-width="2.15"/>
<g font-size="17" stroke="#000" stroke-width="0.2"><text x="383.0" y="403.0">p</text><text x="395.4" y="405.1" stroke-width="0.45">=</text><text transform="translate(409.0,403.2) scale(1.18,1)" font-size="18.5">0.1</text></g>
<path d="M358.05,417.6 L360.25,417.6" stroke="#00ffff" stroke-width="2.15"/>
<path d="M366.8,417.6 L374.85,417.6" stroke="#00ffff" stroke-width="2.15"/>
<g font-size="17" stroke="#000" stroke-width="0.2"><text x="383.0" y="422.2">p</text><text x="395.4" y="424.3" stroke-width="0.45">=</text><text transform="translate(409.0,422.4) scale(1.18,1)" font-size="18.5">0.1</text></g>
<path d="M358.05,436.7 L368.9,436.7" stroke="#000000" stroke-width="2.15"/>
<g font-size="17" stroke="#000" stroke-width="0.2"><text x="383.0" y="441.3">p</text><text x="395.4" y="443.4" stroke-width="0.45">=</text><text transform="translate(409.0,441.5) scale(1.18,1)" font-size="18.5">0.1</text></g>
</svg></body></html>
